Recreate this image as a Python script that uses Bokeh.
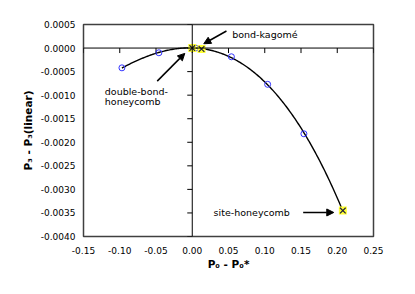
import numpy as np
from bokeh.plotting import figure
from bokeh.models import (Range1d, FixedTicker, NumeralTickFormatter, Span, Label,
                          Arrow, NormalHead)
from bokeh.embed import file_html
from bokeh.resources import INLINE

# ---- data ----
circle_x = [-0.097, -0.046, 0.0045, 0.054, 0.104, 0.154]
circle_y = [-0.00042, -0.00010, 0.0, -0.000185, -0.00077, -0.00182]

special_names = ["double-bond-honeycomb", "bond-kagomé", "site-honeycomb"]
special_x = [0.0, 0.0128, 0.2077]
special_y = [0.0, -0.00002, -0.00345]

x_ticks = [-0.15, -0.10, -0.05, 0.0, 0.05, 0.10, 0.15, 0.20, 0.25]
y_ticks = [0.0005, 0.0, -0.0005, -0.0010, -0.0015, -0.0020, -0.0025, -0.0030, -0.0035, -0.0040]

FONT = "DejaVu Sans"

p = figure(width=407, height=286, output_backend="svg", toolbar_location=None,
           x_range=Range1d(-0.15, 0.25), y_range=Range1d(-0.0040, 0.0005),
           min_border_left=83, min_border_right=34, min_border_top=24, min_border_bottom=50)
p.background_fill_color = "white"
p.border_fill_color = "white"
p.outline_line_color = "#404040"
p.outline_line_width = 1.5
p.grid.visible = False

for ax in (p.xaxis[0], p.yaxis[0]):
    ax.axis_line_color = None
    ax.major_tick_line_color = None
    ax.minor_tick_line_color = None
    ax.major_tick_out = 0
    ax.major_tick_in = 0
    ax.major_label_text_font = FONT
    ax.major_label_text_font_size = "9px"
    ax.major_label_text_color = "black"
    ax.axis_label_text_font = FONT
    ax.axis_label_text_font_style = "bold"
    ax.axis_label_text_font_size = "10.5px"
    ax.axis_label_text_color = "black"

p.xaxis.major_label_standoff = 10
p.yaxis.major_label_standoff = 8
p.xaxis.ticker = FixedTicker(ticks=x_ticks)
p.yaxis.ticker = FixedTicker(ticks=y_ticks)
p.xaxis.formatter = NumeralTickFormatter(format="0.00")
p.yaxis.formatter = NumeralTickFormatter(format="0.0000")
p.xaxis.axis_label = "P₀ - P₀*"
p.yaxis.axis_label = "P₃ - P₃(linear)"
p.xaxis.axis_label_standoff = 1
p.yaxis.axis_label_standoff = 4

# zero axes lines
p.add_layout(Span(location=0, dimension="width", line_color="black", line_width=1))
p.add_layout(Span(location=0, dimension="height", line_color="black", line_width=1))

# tick marks on the zero lines
p.ray(x=x_ticks, y=[0.0] * len(x_ticks), length=5, length_units="screen",
      angle=-np.pi / 2, line_color="black", line_width=1)
p.ray(x=[0.0] * len(y_ticks), y=y_ticks, length=5, length_units="screen",
      angle=np.pi, line_color="black", line_width=1)

# fitted curve through all points
all_x = np.array(circle_x + special_x)
all_y = np.array(circle_y + special_y)
coef = np.polyfit(all_x, all_y, 3)
cx = np.linspace(min(circle_x), max(special_x), 200)
p.line(cx, np.polyval(coef, cx), line_color="black", line_width=1.4)

# markers
p.scatter(circle_x, circle_y, marker="circle", size=6, fill_color=None,
          line_color="#3333ff", line_width=1)
p.scatter(special_x, special_y, marker="square", size=8, fill_color="#ffff33",
          line_color=None)
p.scatter(special_x, special_y, marker="x", size=8, line_color="#202040", line_width=1.2)

# annotations
def lab(x, y, text, align="left"):
    p.add_layout(Label(x=x, y=y, text=text, text_font=FONT, text_font_size="9.5px",
                       text_align=align, text_baseline="middle", text_color="black"))

def arrow(x0, y0, x1, y1):
    p.add_layout(Arrow(x_start=x0, y_start=y0, x_end=x1, y_end=y1, line_width=1.5,
                       line_color="black",
                       end=NormalHead(size=7, fill_color="black", line_color="black")))

lab(0.0551, 0.000298, "bond-kagomé")
arrow(0.0472, 0.000362, 0.0159, 0.0000915)

lab(-0.1206, -0.000915, "double-bond-")
lab(-0.1206, -0.001143, "honeycomb")
arrow(-0.0483, -0.000702, -0.0103, -0.000113)

lab(0.1346, -0.00349, "site-honeycomb", align="right")
arrow(0.153, -0.00349, 0.1952, -0.00349)

open("out.html", "w").write(file_html(p, INLINE))
